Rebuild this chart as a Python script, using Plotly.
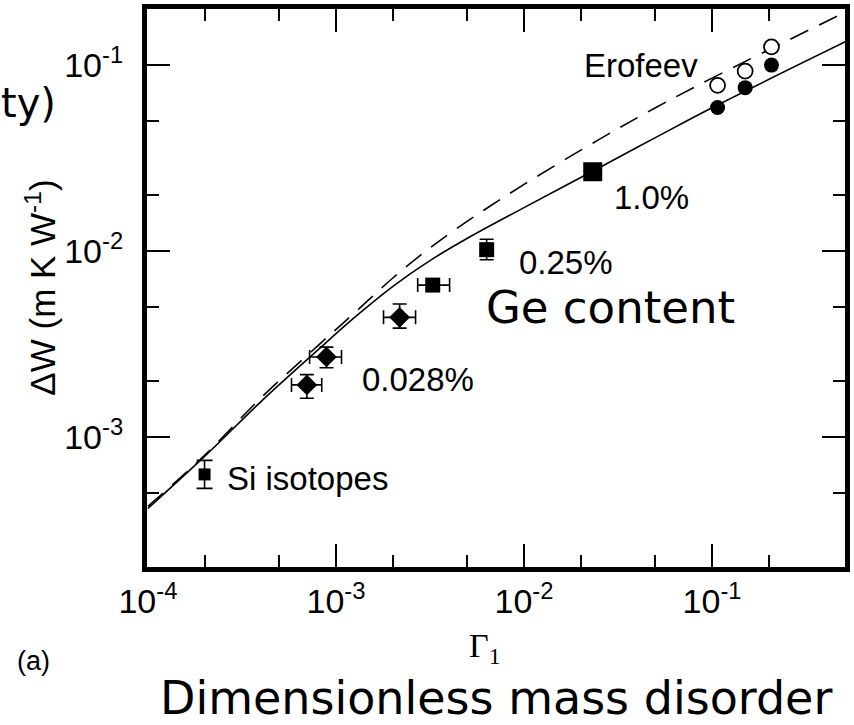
import plotly.graph_objects as go

# ---- theory curves (Gamma_1, Delta W) ----
curve_gamma = [1.0e-4, 2.0e-4, 3.98e-4, 7.94e-4, 1.26e-3, 2.0e-3, 3.16e-3,
               5.0e-3, 1.0e-2, 2.51e-2, 5.0e-2, 0.1, 0.513]
solid_dw = [4.13e-4, 7.87e-4, 1.549e-3, 2.92e-3, 4.42e-3, 6.46e-3, 8.91e-3,
            1.175e-2, 1.718e-2, 2.818e-2, 4.09e-2, 5.92e-2, 0.1343]
dashed_dw = [4.24e-4, 7.98e-4, 1.622e-3, 3.08e-3, 4.68e-3, 7.16e-3, 1.042e-2,
             1.452e-2, 2.29e-2, 4.0e-2, 5.92e-2, 8.55e-2, 0.194]

# ---- measurements ----
si_gamma = [2.0e-4]
si_dw = [6.3e-4]
si_dw_err_plus = [1.2e-4]
si_dw_err_minus = [1.0e-4]

ge_low_gamma = [7.0e-4, 8.9e-4, 2.18e-3]
ge_low_dw = [1.91e-3, 2.70e-3, 4.41e-3]
ge_low_gamma_err_plus = [1.4e-4, 1.8e-4, 4.7e-4]
ge_low_gamma_err_minus = [1.2e-4, 1.66e-4, 3.9e-4]
ge_low_dw_err_plus = [0.26e-3, 0.35e-3, 0.79e-3]
ge_low_dw_err_minus = [0.29e-3, 0.34e-3, 0.55e-3]

ge_mid_gamma = [3.27e-3, 6.33e-3]
ge_mid_dw = [6.58e-3, 1.02e-2]
ge_mid_gamma_err_plus = [0.75e-3, 0.3e-3]
ge_mid_gamma_err_minus = [0.55e-3, 0.3e-3]
ge_mid_dw_err_plus = [0.4e-3, 1.4e-3]
ge_mid_dw_err_minus = [0.4e-3, 1.2e-3]

ge_high_gamma = [2.32e-2]
ge_high_dw = [2.68e-2]

erofeev_gamma = [0.107, 0.150, 0.207]
erofeev_dw_filled = [0.0594, 0.0760, 0.1005]
erofeev_dw_open = [0.0782, 0.0933, 0.126]

# ---- axis ticks ----
x_major = [1e-4, 1e-3, 1e-2, 1e-1]
x_major_text = ["10<sup>-4</sup>", "10<sup>-3</sup>", "10<sup>-2</sup>", "10<sup>-1</sup>"]
x_minor = [2e-4, 5e-4, 2e-3, 5e-3, 2e-2, 5e-2, 2e-1]
y_major = [1e-3, 1e-2, 1e-1]
y_major_text = ["10<sup>-3</sup>", "10<sup>-2</sup>", "10<sup>-1</sup>"]
y_minor = [5e-4, 2e-3, 5e-3, 2e-2, 5e-2]

SANS = "Liberation Sans, Arial, sans-serif"
BIG = "DejaVu Sans, Verdana, sans-serif"
SERIF = "Liberation Serif, Times New Roman, serif"

fig = go.Figure()

fig.add_trace(go.Scatter(x=curve_gamma, y=dashed_dw, mode="lines",
                         line=dict(color="black", width=1.6, dash="20px,12px",
                                   shape="spline", smoothing=1.0)))
fig.add_trace(go.Scatter(x=curve_gamma, y=solid_dw, mode="lines",
                         line=dict(color="black", width=1.6,
                                   shape="spline", smoothing=1.0)))

err_style = dict(color="black", thickness=1.6)

fig.add_trace(go.Scatter(
    x=si_gamma, y=si_dw, mode="markers",
    marker=dict(symbol="square", size=12, color="black"),
    error_y=dict(type="data", array=si_dw_err_plus, arrayminus=si_dw_err_minus,
                 width=8, **err_style)))

fig.add_trace(go.Scatter(
    x=ge_low_gamma, y=ge_low_dw, mode="markers",
    marker=dict(symbol="diamond", size=16, color="black"),
    error_x=dict(type="data", array=ge_low_gamma_err_plus,
                 arrayminus=ge_low_gamma_err_minus, width=7, **err_style),
    error_y=dict(type="data", array=ge_low_dw_err_plus,
                 arrayminus=ge_low_dw_err_minus, width=7, **err_style)))

fig.add_trace(go.Scatter(
    x=ge_mid_gamma, y=ge_mid_dw, mode="markers",
    marker=dict(symbol="square", size=15, color="black"),
    error_x=dict(type="data", array=ge_mid_gamma_err_plus,
                 arrayminus=ge_mid_gamma_err_minus, width=7, **err_style),
    error_y=dict(type="data", array=ge_mid_dw_err_plus,
                 arrayminus=ge_mid_dw_err_minus, width=7, **err_style)))

fig.add_trace(go.Scatter(
    x=ge_high_gamma, y=ge_high_dw, mode="markers",
    marker=dict(symbol="square", size=19, color="black")))

fig.add_trace(go.Scatter(
    x=erofeev_gamma, y=erofeev_dw_filled, mode="markers",
    marker=dict(symbol="circle", size=15, color="black")))
fig.add_trace(go.Scatter(
    x=erofeev_gamma, y=erofeev_dw_open, mode="markers",
    marker=dict(symbol="circle", size=15, color="white",
                line=dict(color="black", width=1.8))))

axis_common = dict(
    type="log", showgrid=False, zeroline=False,
    showline=True, linecolor="black", linewidth=5, mirror="allticks",
    ticks="inside", ticklen=23, tickwidth=2.4, tickcolor="black",
    tickmode="array",
    tickfont=dict(family=SANS, size=34, color="black"),
)

fig.update_xaxes(
    **axis_common, range=[-4.005, -0.293],
    tickvals=x_major, ticktext=x_major_text,
    minor=dict(tickmode="array", tickvals=x_minor, ticks="inside",
               ticklen=12, tickwidth=2.4, tickcolor="black"),
)
fig.update_yaxes(
    **axis_common, range=[-3.699, -0.696],
    tickvals=y_major, ticktext=y_major_text, ticklabelstandoff=12,
    minor=dict(tickmode="array", tickvals=y_minor, ticks="inside",
               ticklen=12, tickwidth=2.4, tickcolor="black"),
)

label_font = dict(family=SANS, size=33, color="black")
annotations = [
    dict(x=-1.376, y=-1.0, text="Erofeev", xanchor="center", yanchor="middle", font=label_font),
    dict(x=-1.323, y=-1.709, text="1.0%", xanchor="center", yanchor="middle", font=label_font),
    dict(x=-1.775, y=-2.062, text="0.25%", xanchor="center", yanchor="middle", font=label_font),
    dict(x=-2.566, y=-2.691, text="0.028%", xanchor="center", yanchor="middle", font=label_font),
    dict(x=-3.591, y=-3.224, text="Si isotopes", xanchor="left", yanchor="middle", font=label_font),
    dict(x=-1.541, y=-2.305, text="Ge content", xanchor="center", yanchor="middle",
         font=dict(family=BIG, size=45, color="black")),
]
for a in annotations:
    a.update(xref="x", yref="y", showarrow=False)

W, H = 854, 725
L, R, T, B = 147, 8, 4, 158
pw, ph = W - L - R, H - T - B


def paper_xy(px, py):
    # pixel position on the page -> paper coordinates of the plot area
    return (px - L) / pw, 1 - (py - T) / ph


outside = [
    (58, 99, "ty)", "right", dict(family=BIG, size=40, color="black"), 0),
    (33, 662, "(a)", "center", dict(family=SANS, size=27, color="black"), 0),
    (497, 699, "Dimensionless mass disorder", "center",
     dict(family=BIG, size=46, color="black"), 0),
    (485, 649, "Γ<sub>1</sub>", "center", dict(family=SERIF, size=34, color="black"), 0),
    (40, 285, "ΔW (m K W<sup>-1</sup>)", "center", dict(family=SANS, size=35, color="black"), -90),
]
for px, py, txt, xa, fnt, ang in outside:
    ax, ay = paper_xy(px, py)
    annotations.append(dict(x=ax, y=ay, xref="paper", yref="paper", text=txt,
                            xanchor=xa, yanchor="middle", showarrow=False,
                            font=fnt, textangle=ang))

fig.update_layout(
    width=W, height=H,
    margin=dict(l=L, r=R, t=T, b=B),
    paper_bgcolor="white", plot_bgcolor="white",
    showlegend=False,
    annotations=annotations,
)

fig.write_html("out.html")
